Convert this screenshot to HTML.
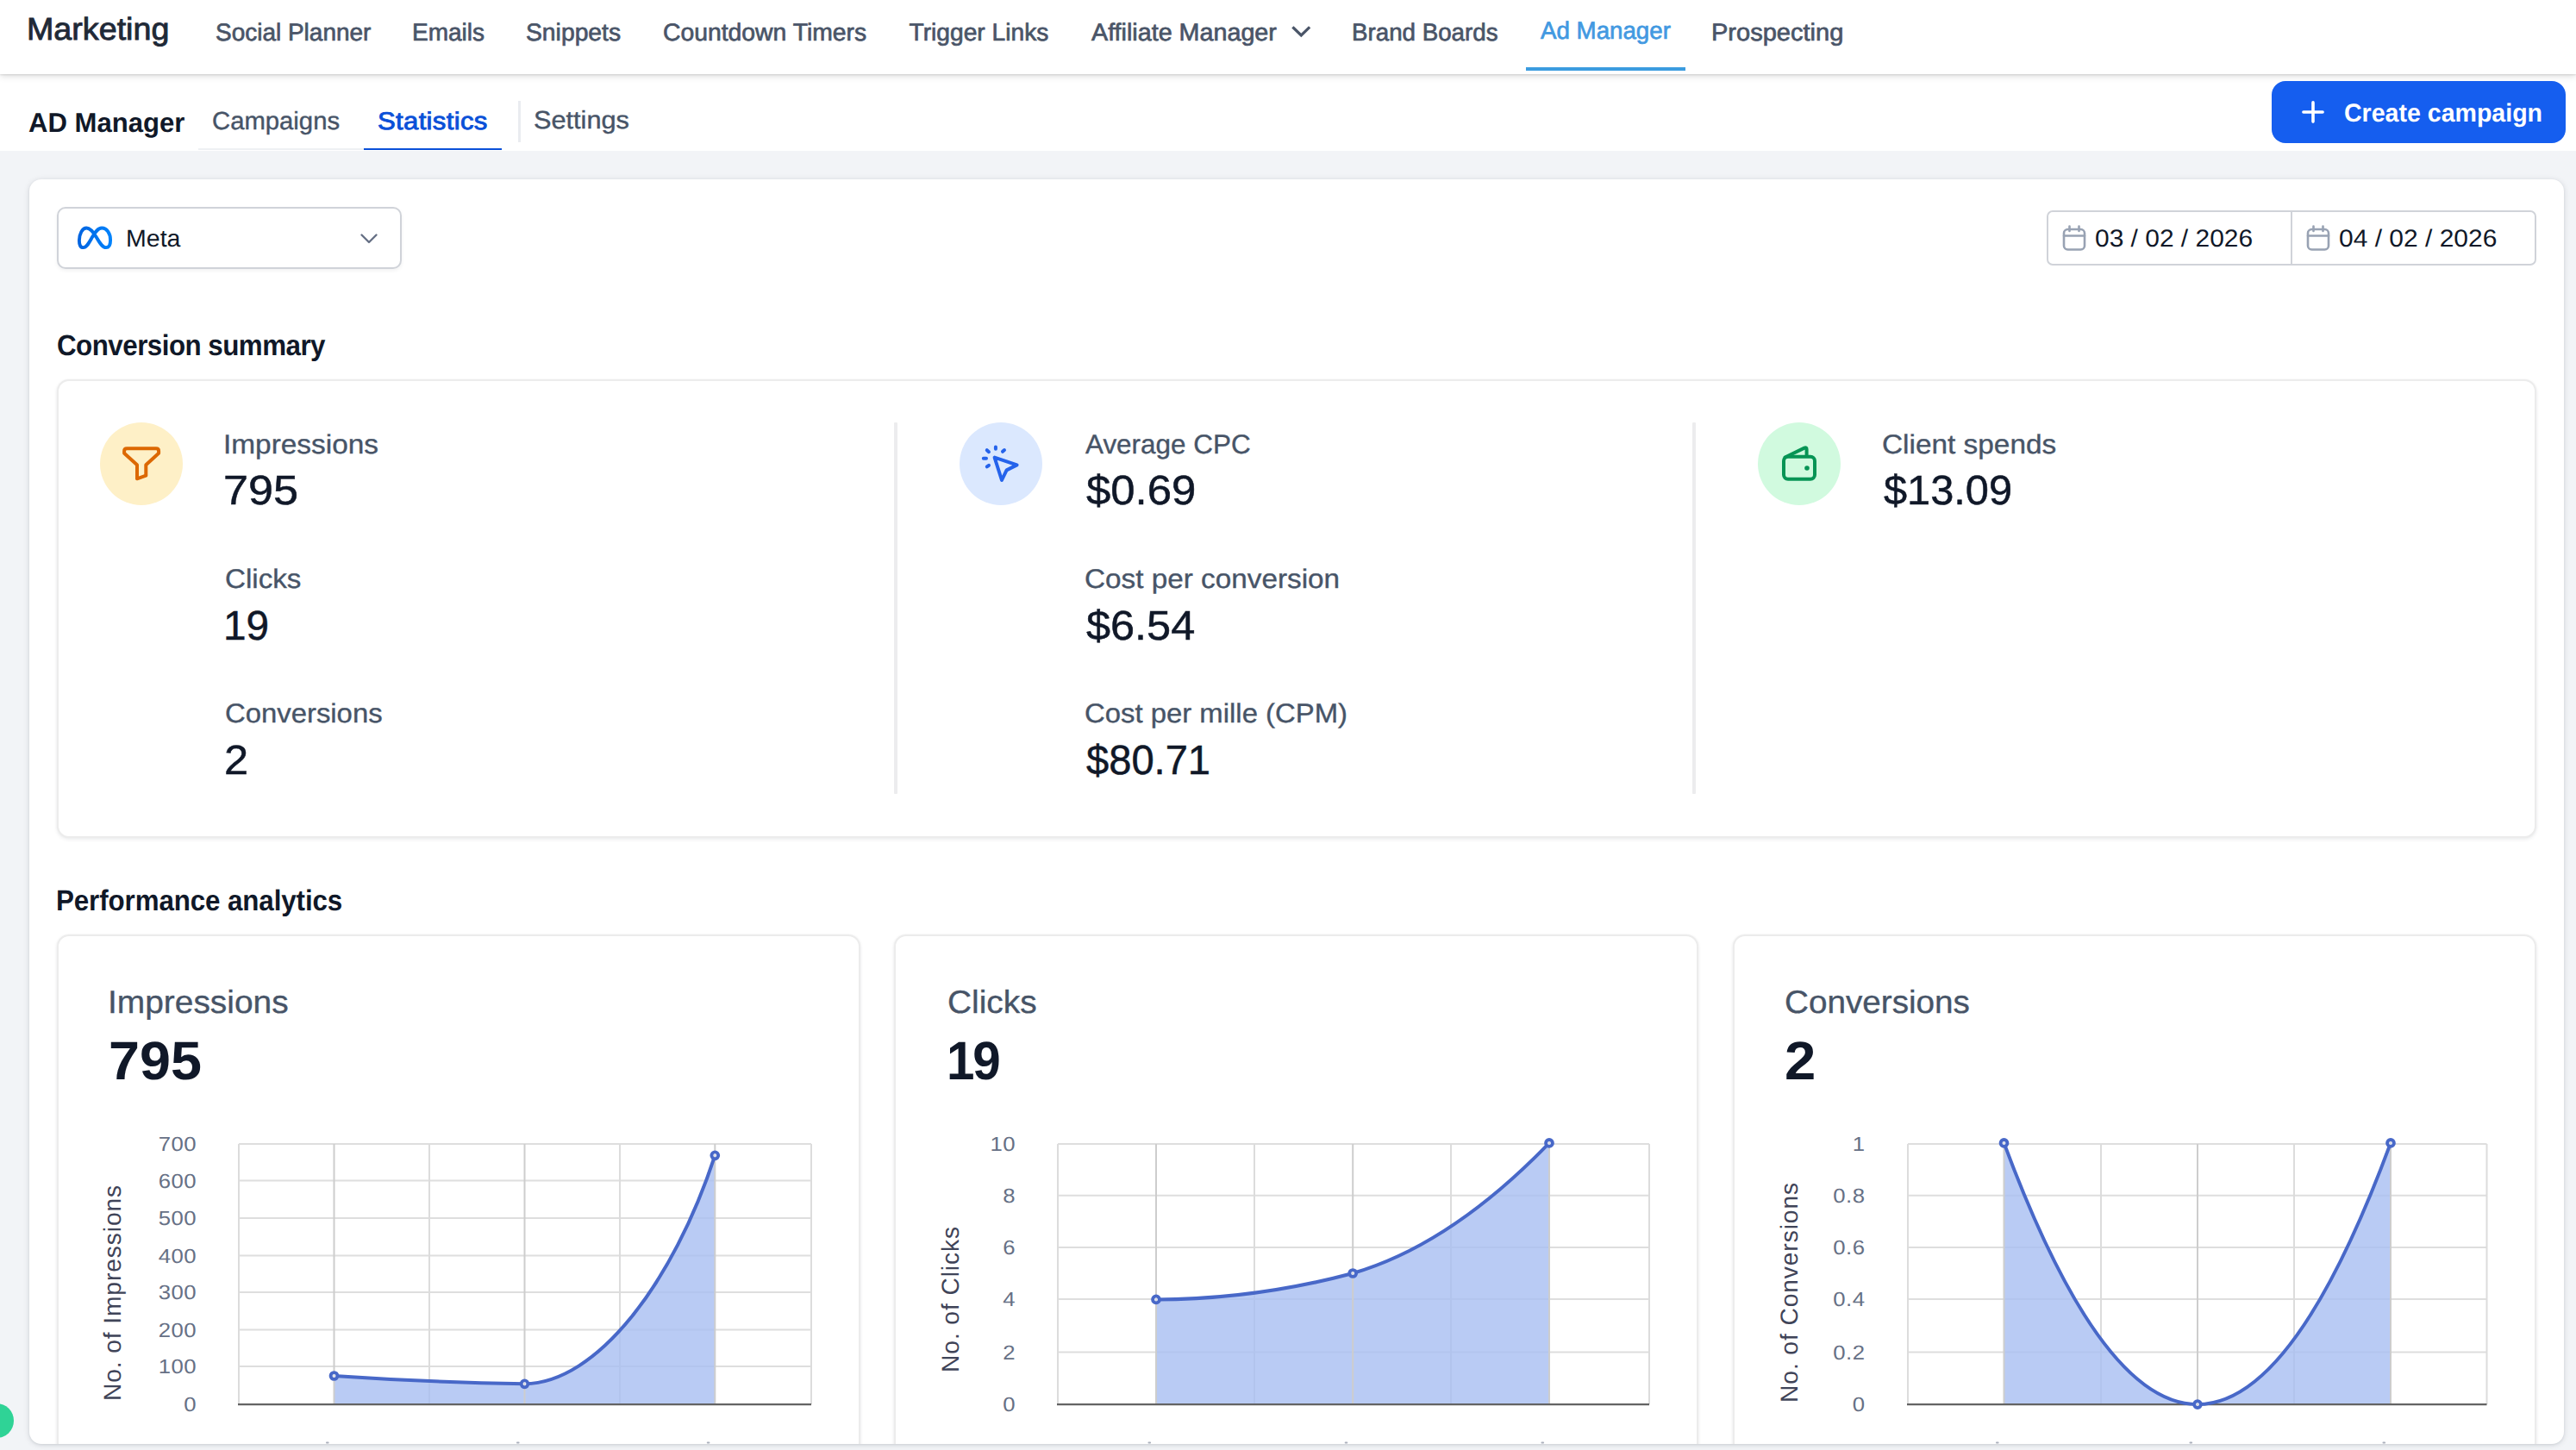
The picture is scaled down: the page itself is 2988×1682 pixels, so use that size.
<!DOCTYPE html>
<html lang="en"><head><meta charset="utf-8"><title>Ad Manager - Statistics</title>
<style>
*{margin:0;padding:0;box-sizing:border-box}
html,body{width:2988px;height:1682px;overflow:hidden;background:#f2f4f7}
body{position:relative;font-family:"Liberation Sans",sans-serif;color:#101828}
.a{position:absolute}
h1,h2,h3{font-weight:400}a{text-decoration:none}button{border:0;font:inherit}
.t{position:absolute;white-space:nowrap;transform-origin:0 0;text-rendering:geometricPrecision}
svg{position:absolute;left:0;top:0;overflow:visible}
svg text{font-family:"Liberation Sans",sans-serif;text-rendering:geometricPrecision}
#nav{left:0;top:0;width:2988px;height:86px;background:#fff;box-shadow:0 2px 8px rgba(0,0,0,.15),0 1px 2px rgba(0,0,0,.10);z-index:3}
#sub{left:0;top:86px;width:2988px;height:88.5px;background:#fff;z-index:2}
#navline{left:1770px;top:78px;width:185px;height:4px;background:#3b9cdf;z-index:4}
#tabline{left:230px;top:172px;width:352px;height:2px;background:#eef0f3;z-index:4}
#tabactive{left:422px;top:171.6px;width:160px;height:2.6px;background:#0a50d8;z-index:5}
#tabdiv{left:601px;top:117px;width:3px;height:48px;background:#eaecf0;z-index:4}
#btn{left:2635px;top:94px;width:341px;height:72px;border-radius:16px;background:#155eef;z-index:4}
#main{left:34px;top:208px;width:2940px;height:1467px;border-radius:14px;background:#fff;box-shadow:0 1px 7px rgba(16,24,40,.13),0 1px 3px rgba(16,24,40,.08);overflow:hidden;z-index:1}
#sel{left:66px;top:240px;width:400px;height:72px;border:2px solid #d0d3d9;border-radius:10px;background:#fff;box-shadow:0 2px 4px rgba(16,24,40,.06)}
#dates{left:2374px;top:244px;width:568px;height:64px;border:2px solid #d0d3d9;border-radius:7px;background:#fff}
#datediv{left:2657px;top:245px;width:2px;height:62px;background:#d0d3d9}
.card{border:2px solid #ececec;border-radius:14px;background:#fff;box-shadow:0 2px 4px rgba(16,24,40,.07),0 0 3px rgba(16,24,40,.04)}
#sum{left:66px;top:440px;width:2876px;height:532px}
.vd{width:4px;top:490px;height:431px;background:#ececee;border-radius:1px}
.ic{width:96px;height:96px;border-radius:50%;top:490px}
.cc{top:1084px;width:932px;height:700px}
#layer{left:0;top:0;width:2988px;height:1682px;z-index:6;pointer-events:none}
#clip{left:34px;top:208px;width:2940px;height:1467px;border-radius:14px;overflow:hidden;z-index:2}
#clip>.in{position:absolute;left:-34px;top:-208px;width:2988px;height:1682px}
#green{left:-24px;top:1628px;width:40px;height:40px;border-radius:50%;background:#2fd396;z-index:7}
</style></head>
<body>
<nav class="a" id="nav"></nav>
<div class="a" id="sub"></div>
<div class="a" id="navline"></div>
<div class="a" id="tabline"></div>
<div class="a" id="tabactive"></div>
<div class="a" id="tabdiv"></div>
<button class="a" id="btn" type="button"></button>
<main class="a" id="main"></main>
<div class="a" id="clip"><div class="in">
<div class="a" id="sel"></div>
<div class="a" id="dates"></div><div class="a" id="datediv"></div>
<div class="a card" id="sum"></div>
<div class="a vd" style="left:1037px"></div><div class="a vd" style="left:1963px"></div>
<div class="a ic" style="left:116px;background:#fef0c7"></div>
<div class="a ic" style="left:1113px;background:#dbe8fe"></div>
<div class="a ic" style="left:2039px;background:#d1fadf"></div>
<div class="a card cc" style="left:66px"></div>
<div class="a card cc" style="left:1037px;width:933px"></div>
<div class="a card cc" style="left:2010px"></div>
<svg width="2988" height="1682" viewBox="0 0 2988 1682">

<defs><linearGradient id="mg" x1="0" y1="0" x2="1" y2="0"><stop offset="0" stop-color="#0064e0"/><stop offset="0.5" stop-color="#0073ee"/><stop offset="1" stop-color="#0082fb"/></linearGradient></defs>
<!-- meta logo -->
<g transform="translate(90 262.5)"><path d="M1.9 16.6C1.9 9 5.5 1.95 10.4 1.95C15 1.95 18.5 7 22 13C26 20 29 24.65 33.1 24.65C36.5 24.65 38.1 21.5 38.1 16C38.1 8.5 34 1.95 28.1 1.95C23.5 1.95 20.5 6.5 17 12.5C13 19.5 10.5 24.65 6.6 24.65C3.3 24.65 1.9 21.5 1.9 16.6Z" fill="none" stroke="url(#mg)" stroke-width="3.9" stroke-linejoin="round"/></g>
<!-- select chevron -->
<polyline points="419.5,272.5 428,281 436.5,272.5" fill="none" stroke="#667085" stroke-width="2.4" stroke-linecap="round" stroke-linejoin="round"/>
<!-- calendars -->
<g fill="none" stroke="#98a2b3" stroke-width="2.6" stroke-linecap="round" stroke-linejoin="round">
<g id="cal"><rect x="2394" y="266" width="24" height="23.5" rx="4.5"/><path d="M2394 273.5H2418M2400.5 262.5V268M2411.5 262.5V268"/></g>
<use href="#cal" x="283"/>
</g>
<!-- funnel -->
<path d="M147.1 520.2H181.1Q184.1 520.2 184.1 523.2V525.8L169.3 539.3V551.7L159 555.3V539.3L144.1 525.8V523.2Q144.1 520.2 147.1 520.2Z" fill="none" stroke="#dc6803" stroke-width="4" stroke-linejoin="round"/>
<!-- cursor click -->
<g fill="none" stroke="#2563eb" stroke-width="4" stroke-linecap="round" stroke-linejoin="round">
<path d="M1153.6 530.6L1179.6 539.4L1167.6 545.4L1162 557Z"/>
<path d="M1154.9 518.4V520.8M1144.8 522.2L1147 524.2M1140.8 531.8H1144M1144.8 541.4L1147 539.8M1165 522L1163 523.8"/>
</g>
<!-- wallet -->
<g fill="none" stroke="#079455" stroke-width="4" stroke-linecap="round" stroke-linejoin="round">
<rect x="2069" y="529.8" width="36" height="26" rx="5"/>
<path d="M2070.5 530.5L2093 519.6Q2095.6 518.6 2095.6 521.2V529"/>
</g>
<circle cx="2096" cy="543" r="2.8" fill="#079455"/>

<line x1="277" y1="1326.9" x2="941" y2="1326.9" stroke="#dedede" stroke-width="2"/>
<line x1="277" y1="1369.4" x2="941" y2="1369.4" stroke="#dedede" stroke-width="2"/>
<line x1="277" y1="1413.1" x2="941" y2="1413.1" stroke="#dedede" stroke-width="2"/>
<line x1="277" y1="1456.6" x2="941" y2="1456.6" stroke="#dedede" stroke-width="2"/>
<line x1="277" y1="1499.0" x2="941" y2="1499.0" stroke="#dedede" stroke-width="2"/>
<line x1="277" y1="1542.6" x2="941" y2="1542.6" stroke="#dedede" stroke-width="2"/>
<line x1="277" y1="1585.0" x2="941" y2="1585.0" stroke="#dedede" stroke-width="2"/>
<line x1="277" y1="1326.9" x2="277" y2="1629.1" stroke="#dcdcdc" stroke-width="2"/>
<line x1="498" y1="1326.9" x2="498" y2="1629.1" stroke="#dcdcdc" stroke-width="2"/>
<line x1="719" y1="1326.9" x2="719" y2="1629.1" stroke="#dcdcdc" stroke-width="2"/>
<line x1="941" y1="1326.9" x2="941" y2="1629.1" stroke="#dcdcdc" stroke-width="2"/>
<path d="M387.5 1596 Q498 1603.6 608.5 1605.3 C692.4 1604.3 780.7 1488.7 829.3 1340.3 L829.3 1629.1 L387.5 1629.1 Z" fill="#a8bef1" fill-opacity="0.8"/>
<line x1="387.5" y1="1326.9" x2="387.5" y2="1629.1" stroke="#cdcdcd" stroke-width="2"/>
<line x1="608.5" y1="1326.9" x2="608.5" y2="1629.1" stroke="#cdcdcd" stroke-width="2"/>
<line x1="829.3" y1="1326.9" x2="829.3" y2="1629.1" stroke="#cdcdcd" stroke-width="2"/>
<line x1="276" y1="1629.1" x2="941" y2="1629.1" stroke="#636363" stroke-width="2.1"/>
<path d="M387.5 1596 Q498 1603.6 608.5 1605.3 C692.4 1604.3 780.7 1488.7 829.3 1340.3" fill="none" stroke="#4868c8" stroke-width="4" stroke-linecap="round" stroke-linejoin="round"/>
<circle cx="387.5" cy="1596" r="3.9" fill="#f3f5fd" stroke="#4868c8" stroke-width="3.9"/>
<line x1="387.5" y1="1594.1" x2="387.5" y2="1597.9" stroke="#d4d6dc" stroke-width="1.6"/>
<circle cx="608.5" cy="1605.3" r="3.9" fill="#f3f5fd" stroke="#4868c8" stroke-width="3.9"/>
<line x1="608.5" y1="1603.3999999999999" x2="608.5" y2="1607.2" stroke="#d4d6dc" stroke-width="1.6"/>
<circle cx="829.3" cy="1340.3" r="3.9" fill="#f3f5fd" stroke="#4868c8" stroke-width="3.9"/>
<line x1="829.3" y1="1338.3999999999999" x2="829.3" y2="1342.2" stroke="#d4d6dc" stroke-width="1.6"/>
<text transform="translate(227.9 1335.2) scale(1.1 1)" text-anchor="end" font-size="23.4" letter-spacing="0.4" fill="#667085">700</text>
<text transform="translate(227.9 1377.7) scale(1.1 1)" text-anchor="end" font-size="23.4" letter-spacing="0.4" fill="#667085">600</text>
<text transform="translate(227.9 1421.4) scale(1.1 1)" text-anchor="end" font-size="23.4" letter-spacing="0.4" fill="#667085">500</text>
<text transform="translate(227.9 1464.9) scale(1.1 1)" text-anchor="end" font-size="23.4" letter-spacing="0.4" fill="#667085">400</text>
<text transform="translate(227.9 1507.3) scale(1.1 1)" text-anchor="end" font-size="23.4" letter-spacing="0.4" fill="#667085">300</text>
<text transform="translate(227.9 1550.9) scale(1.1 1)" text-anchor="end" font-size="23.4" letter-spacing="0.4" fill="#667085">200</text>
<text transform="translate(227.9 1593.3) scale(1.1 1)" text-anchor="end" font-size="23.4" letter-spacing="0.4" fill="#667085">100</text>
<text transform="translate(227.9 1637.4) scale(1.1 1)" text-anchor="end" font-size="23.4" letter-spacing="0.4" fill="#667085">0</text>
<rect x="378.0" y="1672.6" width="3.6" height="1.8" rx="0.9" fill="#667085" opacity="0.55"/>
<rect x="599.0" y="1672.6" width="3.6" height="1.8" rx="0.9" fill="#667085" opacity="0.55"/>
<rect x="819.8" y="1672.6" width="3.6" height="1.8" rx="0.9" fill="#667085" opacity="0.55"/>
<text transform="translate(140.2 1499.5) rotate(-90)" text-anchor="middle" font-size="28.2" letter-spacing="0.9" fill="#3f4458">No. of Impressions</text>
<line x1="1227" y1="1326.9" x2="1913" y2="1326.9" stroke="#dedede" stroke-width="2"/>
<line x1="1227" y1="1386.7" x2="1913" y2="1386.7" stroke="#dedede" stroke-width="2"/>
<line x1="1227" y1="1446.9" x2="1913" y2="1446.9" stroke="#dedede" stroke-width="2"/>
<line x1="1227" y1="1507.0" x2="1913" y2="1507.0" stroke="#dedede" stroke-width="2"/>
<line x1="1227" y1="1568.5" x2="1913" y2="1568.5" stroke="#dedede" stroke-width="2"/>
<line x1="1227" y1="1326.9" x2="1227" y2="1629.1" stroke="#dcdcdc" stroke-width="2"/>
<line x1="1455" y1="1326.9" x2="1455" y2="1629.1" stroke="#dcdcdc" stroke-width="2"/>
<line x1="1683" y1="1326.9" x2="1683" y2="1629.1" stroke="#dcdcdc" stroke-width="2"/>
<line x1="1913" y1="1326.9" x2="1913" y2="1629.1" stroke="#dcdcdc" stroke-width="2"/>
<path d="M1341 1507.4 Q1455 1507.4 1569.2 1477 Q1683 1443.8 1797 1325.9 L1797 1629.1 L1341 1629.1 Z" fill="#a8bef1" fill-opacity="0.8"/>
<line x1="1341" y1="1326.9" x2="1341" y2="1629.1" stroke="#cdcdcd" stroke-width="2"/>
<line x1="1569.2" y1="1326.9" x2="1569.2" y2="1629.1" stroke="#cdcdcd" stroke-width="2"/>
<line x1="1797" y1="1326.9" x2="1797" y2="1629.1" stroke="#cdcdcd" stroke-width="2"/>
<line x1="1226" y1="1629.1" x2="1913" y2="1629.1" stroke="#636363" stroke-width="2.1"/>
<path d="M1341 1507.4 Q1455 1507.4 1569.2 1477 Q1683 1443.8 1797 1325.9" fill="none" stroke="#4868c8" stroke-width="4" stroke-linecap="round" stroke-linejoin="round"/>
<circle cx="1341" cy="1507.4" r="3.9" fill="#f3f5fd" stroke="#4868c8" stroke-width="3.9"/>
<line x1="1341" y1="1505.5" x2="1341" y2="1509.3000000000002" stroke="#d4d6dc" stroke-width="1.6"/>
<circle cx="1569.2" cy="1477" r="3.9" fill="#f3f5fd" stroke="#4868c8" stroke-width="3.9"/>
<line x1="1569.2" y1="1475.1" x2="1569.2" y2="1478.9" stroke="#d4d6dc" stroke-width="1.6"/>
<circle cx="1797" cy="1325.9" r="3.9" fill="#f3f5fd" stroke="#4868c8" stroke-width="3.9"/>
<line x1="1797" y1="1324.0" x2="1797" y2="1327.8000000000002" stroke="#d4d6dc" stroke-width="1.6"/>
<text transform="translate(1177.9 1335.2) scale(1.1 1)" text-anchor="end" font-size="23.4" letter-spacing="0.4" fill="#667085">10</text>
<text transform="translate(1177.9 1395.0) scale(1.1 1)" text-anchor="end" font-size="23.4" letter-spacing="0.4" fill="#667085">8</text>
<text transform="translate(1177.9 1455.2) scale(1.1 1)" text-anchor="end" font-size="23.4" letter-spacing="0.4" fill="#667085">6</text>
<text transform="translate(1177.9 1515.3) scale(1.1 1)" text-anchor="end" font-size="23.4" letter-spacing="0.4" fill="#667085">4</text>
<text transform="translate(1177.9 1576.8) scale(1.1 1)" text-anchor="end" font-size="23.4" letter-spacing="0.4" fill="#667085">2</text>
<text transform="translate(1177.9 1637.4) scale(1.1 1)" text-anchor="end" font-size="23.4" letter-spacing="0.4" fill="#667085">0</text>
<rect x="1331.5" y="1672.6" width="3.6" height="1.8" rx="0.9" fill="#667085" opacity="0.55"/>
<rect x="1559.7" y="1672.6" width="3.6" height="1.8" rx="0.9" fill="#667085" opacity="0.55"/>
<rect x="1787.5" y="1672.6" width="3.6" height="1.8" rx="0.9" fill="#667085" opacity="0.55"/>
<text transform="translate(1112 1507) rotate(-90)" text-anchor="middle" font-size="28.2" letter-spacing="0.9" fill="#3f4458">No. of Clicks</text>
<line x1="2213" y1="1326.9" x2="2884.5" y2="1326.9" stroke="#dedede" stroke-width="2"/>
<line x1="2213" y1="1386.7" x2="2884.5" y2="1386.7" stroke="#dedede" stroke-width="2"/>
<line x1="2213" y1="1446.9" x2="2884.5" y2="1446.9" stroke="#dedede" stroke-width="2"/>
<line x1="2213" y1="1507.0" x2="2884.5" y2="1507.0" stroke="#dedede" stroke-width="2"/>
<line x1="2213" y1="1568.5" x2="2884.5" y2="1568.5" stroke="#dedede" stroke-width="2"/>
<line x1="2213" y1="1326.9" x2="2213" y2="1629.1" stroke="#dcdcdc" stroke-width="2"/>
<line x1="2437" y1="1326.9" x2="2437" y2="1629.1" stroke="#dcdcdc" stroke-width="2"/>
<line x1="2661" y1="1326.9" x2="2661" y2="1629.1" stroke="#dcdcdc" stroke-width="2"/>
<line x1="2884.5" y1="1326.9" x2="2884.5" y2="1629.1" stroke="#dcdcdc" stroke-width="2"/>
<path d="M2324.5 1325.9 Q2437 1629.1 2549 1629.1 Q2661 1629.1 2773 1325.9 L2773 1629.1 L2324.5 1629.1 Z" fill="#a8bef1" fill-opacity="0.8"/>
<line x1="2324.5" y1="1326.9" x2="2324.5" y2="1629.1" stroke="#cdcdcd" stroke-width="2"/>
<line x1="2549" y1="1326.9" x2="2549" y2="1629.1" stroke="#cdcdcd" stroke-width="2"/>
<line x1="2773" y1="1326.9" x2="2773" y2="1629.1" stroke="#cdcdcd" stroke-width="2"/>
<line x1="2212" y1="1629.1" x2="2884.5" y2="1629.1" stroke="#636363" stroke-width="2.1"/>
<path d="M2324.5 1325.9 Q2437 1629.1 2549 1629.1 Q2661 1629.1 2773 1325.9" fill="none" stroke="#4868c8" stroke-width="4" stroke-linecap="round" stroke-linejoin="round"/>
<circle cx="2324.5" cy="1325.9" r="3.9" fill="#f3f5fd" stroke="#4868c8" stroke-width="3.9"/>
<line x1="2324.5" y1="1324.0" x2="2324.5" y2="1327.8000000000002" stroke="#d4d6dc" stroke-width="1.6"/>
<circle cx="2549" cy="1629.1" r="3.9" fill="#f3f5fd" stroke="#4868c8" stroke-width="3.9"/>
<line x1="2549" y1="1627.1999999999998" x2="2549" y2="1631.0" stroke="#d4d6dc" stroke-width="1.6"/>
<circle cx="2773" cy="1325.9" r="3.9" fill="#f3f5fd" stroke="#4868c8" stroke-width="3.9"/>
<line x1="2773" y1="1324.0" x2="2773" y2="1327.8000000000002" stroke="#d4d6dc" stroke-width="1.6"/>
<text transform="translate(2163.4 1335.2) scale(1.1 1)" text-anchor="end" font-size="23.4" letter-spacing="0.4" fill="#667085">1</text>
<text transform="translate(2163.4 1395.0) scale(1.1 1)" text-anchor="end" font-size="23.4" letter-spacing="0.4" fill="#667085">0.8</text>
<text transform="translate(2163.4 1455.2) scale(1.1 1)" text-anchor="end" font-size="23.4" letter-spacing="0.4" fill="#667085">0.6</text>
<text transform="translate(2163.4 1515.3) scale(1.1 1)" text-anchor="end" font-size="23.4" letter-spacing="0.4" fill="#667085">0.4</text>
<text transform="translate(2163.4 1576.8) scale(1.1 1)" text-anchor="end" font-size="23.4" letter-spacing="0.4" fill="#667085">0.2</text>
<text transform="translate(2163.4 1637.4) scale(1.1 1)" text-anchor="end" font-size="23.4" letter-spacing="0.4" fill="#667085">0</text>
<rect x="2315.0" y="1672.6" width="3.6" height="1.8" rx="0.9" fill="#667085" opacity="0.55"/>
<rect x="2539.5" y="1672.6" width="3.6" height="1.8" rx="0.9" fill="#667085" opacity="0.55"/>
<rect x="2763.5" y="1672.6" width="3.6" height="1.8" rx="0.9" fill="#667085" opacity="0.55"/>
<text transform="translate(2084.8 1499) rotate(-90)" text-anchor="middle" font-size="28.2" letter-spacing="0.9" fill="#3f4458">No. of Conversions</text>
</svg>
</div></div>
<div class="a" id="layer">
<svg width="2988" height="1682" viewBox="0 0 2988 1682">
<!-- nav chevron -->
<polyline points="1500.5,32.5 1509.3,41 1518,32.5" fill="none" stroke="#4a5568" stroke-width="3.2" stroke-linecap="square" stroke-linejoin="miter"/>
<!-- plus -->
<path d="M2683 118.9V141.1M2671.9 130H2694.1" stroke="#fff" stroke-width="3.6" stroke-linecap="round" fill="none"/>
</svg>
<h1 class="t" style="left:30.92px;top:12.0px;font-size:36.3px;line-height:44px;color:#1f2937;transform:scaleX(1.0375);-webkit-text-stroke:0.9px #1f2937;">Marketing</h1>
<a class="t" style="left:250.01px;top:20.0px;font-size:28.2px;line-height:34px;color:#4a5568;transform:scaleX(0.9924);-webkit-text-stroke:0.7px #4a5568;">Social Planner</a>
<a class="t" style="left:478.01px;top:20.0px;font-size:28.2px;line-height:34px;color:#4a5568;transform:scaleX(0.9942);-webkit-text-stroke:0.7px #4a5568;">Emails</a>
<a class="t" style="left:610.0px;top:20.0px;font-size:28.2px;line-height:34px;color:#4a5568;transform:scaleX(1.0037);-webkit-text-stroke:0.7px #4a5568;">Snippets</a>
<a class="t" style="left:768.5px;top:20.0px;font-size:28.2px;line-height:34px;color:#4a5568;transform:scaleX(1.0047);-webkit-text-stroke:0.7px #4a5568;">Countdown Timers</a>
<a class="t" style="left:1054.5px;top:20.0px;font-size:28.2px;line-height:34px;color:#4a5568;-webkit-text-stroke:0.7px #4a5568;">Trigger Links</a>
<a class="t" style="left:1265.5px;top:20.0px;font-size:28.2px;line-height:34px;color:#4a5568;transform:scaleX(1.0184);-webkit-text-stroke:0.7px #4a5568;">Affiliate Manager</a>
<a class="t" style="left:1568.03px;top:20.0px;font-size:28.2px;line-height:34px;color:#4a5568;transform:scaleX(0.9838);-webkit-text-stroke:0.7px #4a5568;">Brand Boards</a>
<a class="t" style="left:1787.0px;top:18.0px;font-size:28.2px;line-height:34px;color:#4299e1;transform:scaleX(0.9826);-webkit-text-stroke:0.7px #4299e1;">Ad Manager</a>
<a class="t" style="left:1985.44px;top:20.0px;font-size:28.2px;line-height:34px;color:#4a5568;transform:scaleX(1.0298);-webkit-text-stroke:0.7px #4a5568;">Prospecting</a>
<h2 class="t" style="left:33.0px;top:123.0px;font-size:31.7px;line-height:39px;color:#101828;transform:scaleX(0.9808);font-weight:700;">AD Manager</h2>
<a class="t" style="left:246.49px;top:124.0px;font-size:29.1px;line-height:35px;color:#475467;transform:scaleX(1.0061);-webkit-text-stroke:0.4px #475467;">Campaigns</a>
<a class="t" style="left:438.41px;top:124.0px;font-size:28.5px;line-height:35px;color:#0a50d8;letter-spacing:0.31px;transform:scaleX(1.09);-webkit-text-stroke:0.9px #0a50d8;">Statistics</a>
<a class="t" style="left:618.94px;top:123.0px;font-size:29.1px;line-height:35px;color:#475467;transform:scaleX(1.0553);-webkit-text-stroke:0.4px #475467;">Settings</a>
<span class="t" style="left:2719.04px;top:114.0px;font-size:29.7px;line-height:36px;color:#ffffff;transform:scaleX(0.9616);font-weight:700;">Create campaign</span>
<div class="t" style="left:145.55px;top:260.0px;font-size:27.9px;line-height:34px;color:#101828;transform:scaleX(1.0233);">Meta</div>
<div class="t" style="left:2430.44px;top:259.0px;font-size:28.3px;line-height:34px;color:#101828;transform:scaleX(1.0579);">03 / 02 / 2026</div>
<div class="t" style="left:2713.44px;top:259.0px;font-size:28.3px;line-height:34px;color:#101828;transform:scaleX(1.0593);">04 / 02 / 2026</div>
<h2 class="t" style="left:66.27px;top:381.0px;font-size:33.7px;line-height:41px;color:#101828;letter-spacing:-0.56px;transform:scaleX(0.93);font-weight:700;">Conversion summary</h2>
<h2 class="t" style="left:65.44px;top:1025.0px;font-size:33.7px;line-height:41px;color:#101828;letter-spacing:-0.11px;transform:scaleX(0.93);font-weight:700;">Performance analytics</h2>
<div class="t" style="left:259.46px;top:497.0px;font-size:31.2px;line-height:38px;color:#475467;transform:scaleX(1.0705);-webkit-text-stroke:0.35px #475467;">Impressions</div>
<div class="t" style="left:260.54px;top:653.0px;font-size:31.2px;line-height:38px;color:#475467;transform:scaleX(1.0629);-webkit-text-stroke:0.35px #475467;">Clicks</div>
<div class="t" style="left:260.55px;top:809.0px;font-size:31.2px;line-height:38px;color:#475467;transform:scaleX(1.0533);-webkit-text-stroke:0.35px #475467;">Conversions</div>
<div class="t" style="left:1258.9px;top:497.0px;font-size:31.2px;line-height:38px;color:#475467;transform:scaleX(1.008);-webkit-text-stroke:0.35px #475467;">Average CPC</div>
<div class="t" style="left:1257.93px;top:653.0px;font-size:31.2px;line-height:38px;color:#475467;transform:scaleX(1.0676);-webkit-text-stroke:0.35px #475467;">Cost per conversion</div>
<div class="t" style="left:1257.95px;top:809.0px;font-size:31.2px;line-height:38px;color:#475467;transform:scaleX(1.054);-webkit-text-stroke:0.35px #475467;">Cost per mille (CPM)</div>
<div class="t" style="left:2183.23px;top:497.0px;font-size:31.2px;line-height:38px;color:#475467;transform:scaleX(1.0701);-webkit-text-stroke:0.35px #475467;">Client spends</div>
<div class="t" style="left:259.43px;top:541.0px;font-size:48.0px;line-height:58px;color:#101828;transform:scaleX(1.0865);-webkit-text-stroke:0.5px #101828;">795</div>
<div class="t" style="left:258.62px;top:698.0px;font-size:48.0px;line-height:58px;color:#101828;transform:scaleX(0.9939);-webkit-text-stroke:0.5px #101828;">19</div>
<div class="t" style="left:259.9px;top:854.0px;font-size:48.0px;line-height:58px;color:#101828;transform:scaleX(1.0522);-webkit-text-stroke:0.5px #101828;">2</div>
<div class="t" style="left:1260.0px;top:541.0px;font-size:48.0px;line-height:58px;color:#101828;transform:scaleX(1.0598);-webkit-text-stroke:0.5px #101828;">$0.69</div>
<div class="t" style="left:1260.0px;top:698.0px;font-size:48.0px;line-height:58px;color:#101828;transform:scaleX(1.0509);-webkit-text-stroke:0.5px #101828;">$6.54</div>
<div class="t" style="left:1260.0px;top:854.0px;font-size:48.0px;line-height:58px;color:#101828;transform:scaleX(0.9813);-webkit-text-stroke:0.5px #101828;">$80.71</div>
<div class="t" style="left:2185.0px;top:541.0px;font-size:48.0px;line-height:58px;color:#101828;transform:scaleX(1.015);-webkit-text-stroke:0.5px #101828;">$13.09</div>
<h3 class="t" style="left:124.57px;top:1140.0px;font-size:37.3px;line-height:45px;color:#475467;transform:scaleX(1.0425);-webkit-text-stroke:0.35px #475467;">Impressions</h3>
<h3 class="t" style="left:1098.66px;top:1140.0px;font-size:37.3px;line-height:45px;color:#475467;transform:scaleX(1.0419);-webkit-text-stroke:0.35px #475467;">Clicks</h3>
<h3 class="t" style="left:2070.36px;top:1140.0px;font-size:37.3px;line-height:45px;color:#475467;transform:scaleX(1.0367);-webkit-text-stroke:0.35px #475467;">Conversions</h3>
<div class="t" style="left:125.64px;top:1193.0px;font-size:62.8px;line-height:76px;color:#101828;transform:scaleX(1.03);font-weight:700;">795</div>
<div class="t" style="left:1097.71px;top:1193.0px;font-size:62.8px;line-height:76px;color:#101828;letter-spacing:-2.34px;transform:scaleX(0.93);font-weight:700;">19</div>
<div class="t" style="left:2070.12px;top:1193.0px;font-size:62.8px;line-height:76px;color:#101828;transform:scaleX(1.0387);font-weight:700;">2</div>
</div>
<div class="a" id="green"></div>
</body></html>
